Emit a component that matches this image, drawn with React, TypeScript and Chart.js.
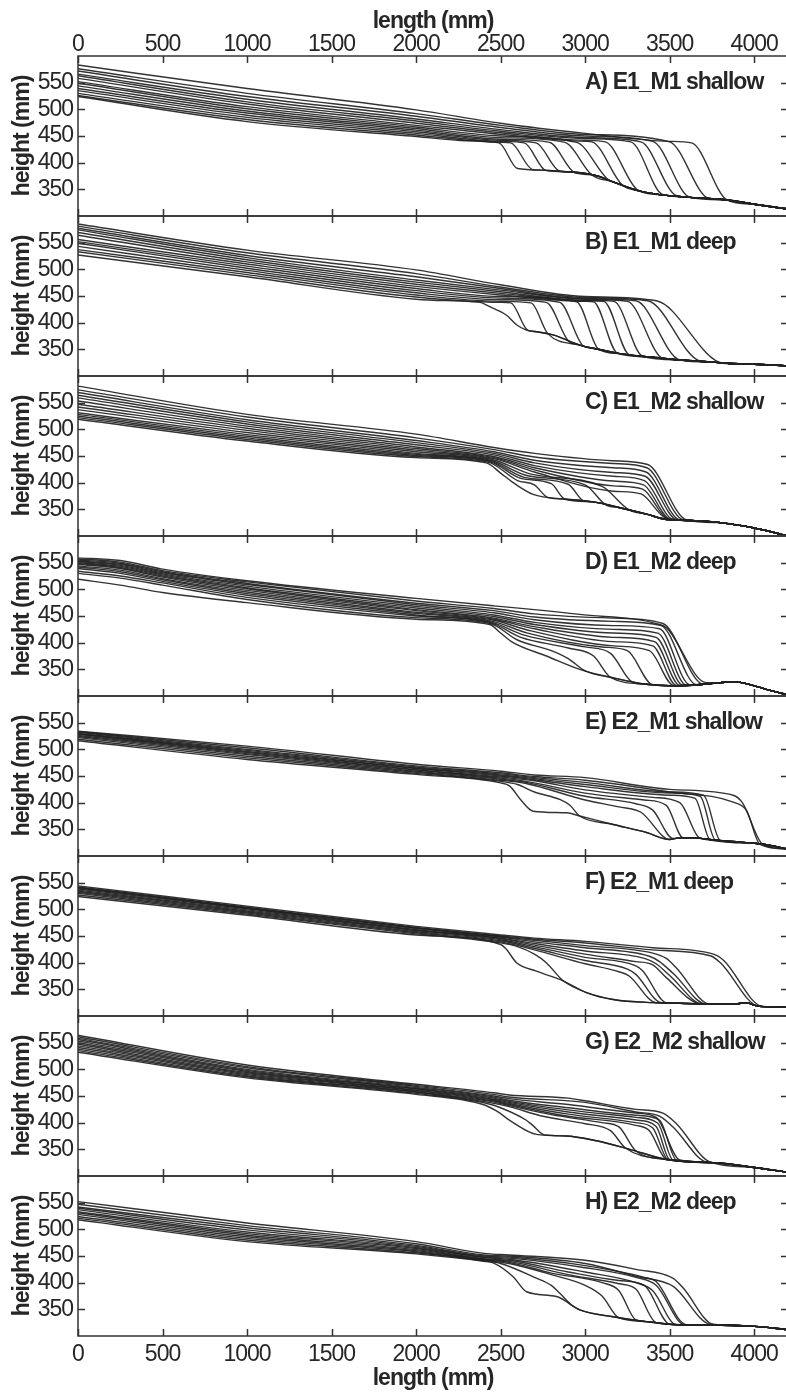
import React, { useEffect, useRef } from 'react';
import { Chart, registerables } from 'chart.js';

Chart.register(...registerables);

type Pt = [number, number];

const FONT = "'Liberation Sans', Arial, sans-serif";
const INK = '#262626';
const TICK_SPACING = '-1px';
const BOLD_SPACING = '-1px';
const TEXT_SIZE = 23;

const X_TICKS = [0, 500, 1000, 1500, 2000, 2500, 3000, 3500, 4000];
const Y_TICKS = [350, 400, 450, 500, 550];
const X_MIN = 0;
const X_MAX = 4200;
const Y_MIN = 300;
const Y_MAX = 600;
const X_TITLE = 'length (mm)';
const Y_TITLE = 'height (mm)';

// ---------- Panel A: E1_M1 shallow ----------
const labelA = 'A) E1_M1 shallow';
const stationsA = [0, 1000, 2000];
const upstreamA = [
  [524, 477, 449], [526, 481, 452], [530, 485, 455], [535, 489, 458], [539, 493, 461],
  [544, 497, 464], [549, 501, 467], [552, 505, 470], [558, 510, 474], [563, 514, 478],
  [566, 519, 482], [572, 524, 487], [576, 530, 492], [583, 539, 499],
];
const pathsA: Pt[][] = [
  [[2300, 441], [2490, 437]],
  [[2500, 438], [2560, 437]],
  [[2500, 440], [2640, 437]],
  [[2500, 442], [2710, 437]],
  [[2500, 444], [2790, 438]],
  [[2500, 447], [2880, 438]],
  [[2500, 450], [2950, 438]],
  [[2500, 453], [3000, 440], [3040, 439]],
  [[2500, 456], [3000, 442], [3120, 439]],
  [[2500, 459], [3000, 445], [3270, 439]],
  [[2500, 462], [3000, 447], [3330, 439]],
  [[2500, 466], [3000, 450], [3400, 440]],
  [[2500, 470], [3000, 453], [3500, 439]],
  [[2500, 474], [3000, 455], [3500, 440], [3630, 437]],
];
const landsA: Pt[] = [
  [2600, 389], [2690, 387], [2770, 385], [2850, 384], [2940, 381], [3040, 377], [3130, 370],
  [3220, 358], [3310, 349], [3460, 340], [3540, 338], [3620, 335], [3730, 333], [3840, 330],
];
const bedA: Pt[] = [
  [2750, 386], [2890, 383], [3050, 377], [3165, 364], [3320, 347], [3440, 340],
  [3620, 335], [3840, 330], [4000, 322], [4200, 313],
];

// ---------- Panel B: E1_M1 deep ----------
const labelB = 'B) E1_M1 deep';
const stationsB = [0, 1000, 2000];
const upstreamB = [
  [527, 486, 444], [533, 490, 448], [537, 494, 452], [543, 498, 456], [549, 502, 460],
  [552, 506, 464], [556, 510, 468], [564, 514, 472], [569, 518, 476], [574, 522, 480],
  [577, 526, 486], [581, 531, 492], [585, 536, 499],
];
const pathsB: Pt[][] = [
  [[2300, 440], [2380, 438], [2436, 430], [2535, 414]],
  [[2500, 438], [2560, 437]],
  [[2500, 440], [2680, 437]],
  [[2500, 443], [2770, 438]],
  [[2500, 446], [2850, 438]],
  [[2500, 449], [2950, 439]],
  [[2500, 452], [3000, 440], [3050, 439]],
  [[2500, 455], [3000, 441], [3110, 440]],
  [[2500, 458], [3000, 442], [3170, 440]],
  [[2500, 461], [3000, 444], [3250, 440]],
  [[2500, 464], [3000, 445], [3300, 441]],
  [[2500, 467], [3000, 447], [3370, 441]],
  [[2500, 471], [3000, 449], [3422, 441]],
];
const landsB: Pt[] = [
  [2594, 396], [2660, 386], [2780, 379], [2900, 366], [2990, 356], [3080, 350], [3190, 343],
  [3260, 340], [3340, 337], [3460, 333], [3560, 330], [3680, 328], [3816, 324],
];
const bedB: Pt[] = [
  [2653, 386], [2712, 383], [2810, 377], [2968, 358], [3047, 352], [3205, 342], [3363, 336],
  [3560, 330], [3757, 326], [3840, 324], [4000, 322], [4200, 319],
];

// ---------- Panel C: E1_M2 shallow ----------
const labelC = 'C) E1_M2 shallow';
const stationsC = [0, 1000, 2000];
const upstreamC = [
  [519, 478, 447], [522, 481, 449], [525, 484, 451], [528, 487, 453], [531, 490, 455],
  [537, 494, 458], [542, 498, 461], [547, 502, 464], [553, 506, 467], [559, 510, 471],
  [564, 514, 475], [569, 518, 479], [574, 523, 484], [581, 528, 491],
];
const pathsC: Pt[][] = [
  [[2416, 437]],
  [[2430, 438], [2600, 404], [2700, 396]],
  [[2440, 439], [2620, 408], [2800, 398]],
  [[2445, 440], [2640, 410], [2900, 397]],
  [[2450, 441], [2660, 413], [3000, 396]],
  [[2455, 443], [2680, 416], [3100, 393]],
  [[2460, 445], [2700, 420], [3166, 384], [3330, 379]],
  [[2460, 447], [2700, 424], [3166, 394], [3340, 388]],
  [[2460, 449], [2700, 428], [3166, 403], [3345, 396]],
  [[2460, 452], [2700, 432], [3166, 412], [3350, 404]],
  [[2460, 455], [2700, 437], [3166, 419], [3355, 412]],
  [[2460, 458], [2700, 442], [3166, 428], [3360, 420]],
  [[2460, 462], [2700, 448], [3166, 436], [3365, 428]],
  [[2460, 466], [2700, 455], [3166, 441], [3370, 434]],
];
const landsC: Pt[] = [
  [2500, 418], [2780, 372], [2880, 369], [2990, 366], [3120, 359], [3260, 349], [3480, 333],
  [3490, 332], [3500, 332], [3520, 331], [3540, 331], [3560, 330], [3580, 330], [3600, 330],
];
const bedC: Pt[] = [
  [2574, 400], [2692, 378], [2890, 369], [3047, 364], [3205, 353], [3363, 341], [3480, 331],
  [3620, 329], [3800, 325], [4000, 315], [4100, 308], [4200, 300],
];

// ---------- Panel D: E1_M2 deep ----------
const labelD = 'D) E1_M2 deep';
const stationsD = [0, 250, 500, 1000, 2000];
const upstreamD = [
  [519, 508, 494, 475, 444], [530, 521, 508, 481, 447], [534, 525, 512, 485, 450],
  [539, 530, 515, 489, 452], [542, 533, 518, 492, 455], [544, 536, 520, 495, 457],
  [547, 539, 523, 498, 460], [549, 541, 525, 501, 462], [550, 543, 527, 503, 465],
  [552, 545, 529, 506, 468], [553, 547, 531, 509, 471], [555, 549, 533, 511, 474],
  [557, 551, 535, 514, 478], [559, 554, 538, 516, 483],
];
const pathsD: Pt[][] = [
  [[2436, 434]],
  [[2440, 436], [2600, 405], [2800, 385], [2900, 370]],
  [[2445, 437], [2620, 410], [2900, 390], [3050, 375]],
  [[2450, 438], [2640, 414], [3000, 392], [3150, 380]],
  [[2455, 440], [2660, 418], [3100, 392], [3250, 385]],
  [[2460, 442], [2680, 422], [3166, 394], [3380, 385]],
  [[2460, 444], [2700, 426], [3166, 402], [3400, 394]],
  [[2460, 446], [2700, 430], [3166, 410], [3410, 402]],
  [[2460, 449], [2700, 434], [3166, 418], [3420, 410]],
  [[2460, 452], [2700, 438], [3166, 425], [3430, 418]],
  [[2460, 456], [2700, 443], [3166, 432], [3440, 426]],
  [[2460, 460], [2700, 448], [3166, 440], [3450, 432]],
  [[2460, 464], [2700, 454], [3166, 446], [3460, 436]],
  [[2460, 469], [2700, 462], [2968, 453], [3442, 434], [3481, 428]],
];
const landsD: Pt[] = [
  [2500, 418], [3000, 347], [3150, 335], [3280, 326], [3400, 321], [3520, 320], [3540, 320],
  [3560, 320], [3580, 320], [3600, 320], [3620, 321], [3660, 321], [3700, 322], [3718, 325],
];
const bedD: Pt[] = [
  [2574, 400], [2771, 375], [2968, 350], [3166, 334], [3363, 322], [3560, 319], [3700, 322],
  [3800, 325], [3880, 327], [4000, 319], [4100, 310], [4200, 302],
];

// ---------- Panel E: E2_M1 shallow ----------
const labelE = 'E) E2_M1 shallow';
const stationsE = [0, 1000, 2000];
const upstreamE = [
  [516, 481, 453], [519, 484, 455], [522, 487, 457], [524, 490, 459], [526, 492, 461],
  [528, 494, 462], [529, 496, 464], [530, 498, 465], [532, 500, 467], [533, 503, 469],
  [534, 506, 472],
];
const pathsE: Pt[][] = [
  [[2500, 437], [2554, 431], [2620, 405]],
  [[2500, 440], [2600, 434], [2700, 420], [2850, 406], [2910, 395]],
  [[2500, 442], [2650, 436], [3000, 405], [3200, 392], [3330, 382]],
  [[2500, 444], [2650, 438], [3000, 412], [3300, 398], [3400, 386]],
  [[2500, 446], [2650, 440], [3000, 418], [3350, 405], [3480, 395]],
  [[2500, 448], [2700, 441], [3000, 424], [3400, 410], [3560, 400]],
  [[2500, 450], [2700, 443], [3000, 430], [3500, 414], [3650, 408]],
  [[2500, 452], [2700, 445], [3000, 434], [3500, 418], [3680, 412]],
  [[2500, 454], [2700, 447], [3000, 438], [3500, 420], [3700, 414]],
  [[2500, 456], [2700, 449], [3000, 442], [3500, 420], [3876, 401], [3955, 385]],
  [[2500, 459], [2700, 452], [3000, 447], [3500, 425], [3876, 414], [3930, 400]],
];
const landsE: Pt[] = [
  [2692, 384], [2968, 375], [3501, 331], [3520, 333], [3580, 334], [3680, 333],
  [3740, 330], [3770, 330], [3800, 329], [4034, 322], [4053, 321],
];
const bedE: Pt[] = [
  [2890, 381], [2968, 375], [3166, 359], [3363, 344], [3501, 331], [3560, 334], [3650, 334],
  [3757, 330], [3955, 325], [4053, 322], [4200, 313],
];

// ---------- Panel F: E2_M1 deep ----------
const labelF = 'F) E2_M1 deep';
const stationsF = [0, 1000, 2000];
const upstreamF = [
  [524, 489, 452], [527, 491, 454], [530, 493, 456], [532, 495, 458], [534, 497, 460],
  [536, 499, 461], [538, 501, 462], [540, 502, 464], [541, 503, 465], [542, 504, 466],
  [544, 506, 468],
];
const pathsF: Pt[][] = [
  [[2500, 434], [2534, 425]],
  [[2500, 437], [2600, 430], [2700, 416], [2770, 400]],
  [[2500, 439], [2700, 424], [3000, 398], [3200, 383], [3260, 375]],
  [[2500, 441], [2700, 427], [3000, 404], [3250, 388], [3300, 378]],
  [[2500, 443], [2700, 430], [3000, 410], [3300, 394], [3340, 385]],
  [[2500, 445], [2700, 433], [3000, 416], [3300, 402], [3400, 396], [3480, 372]],
  [[2500, 446], [2700, 436], [3000, 422], [3350, 408], [3420, 398], [3500, 376]],
  [[2500, 448], [2700, 439], [3000, 428], [3380, 412], [3440, 402], [3520, 380]],
  [[2500, 449], [2700, 442], [3000, 432], [3400, 418], [3480, 408], [3540, 390]],
  [[2500, 450], [2700, 444], [3000, 437], [3400, 424], [3740, 413], [3800, 400]],
  [[2500, 452], [2700, 446], [3000, 440], [3400, 428], [3760, 416], [3820, 404]],
];
const landsF: Pt[] = [
  [2594, 400], [2870, 366], [3420, 325], [3450, 325], [3480, 325], [3680, 323],
  [3700, 322], [3720, 322], [3740, 322], [4030, 318], [4050, 318],
];
const bedF: Pt[] = [
  [2712, 384], [2870, 366], [3008, 344], [3166, 331], [3402, 325], [3560, 324], [3757, 322],
  [3876, 322], [3950, 325], [4030, 318], [4200, 317],
];

// ---------- Panel G: E2_M2 shallow ----------
const labelG = 'G) E2_M2 shallow';
const stationsG = [0, 1000, 2000];
const upstreamG = [
  [532, 484, 453], [535, 486, 455], [538, 488, 457], [541, 490, 458], [544, 492, 460],
  [547, 494, 461], [550, 496, 463], [553, 498, 464], [556, 500, 466], [558, 503, 468],
  [561, 505, 470], [564, 508, 472],
];
const pathsG: Pt[][] = [
  [[2396, 434], [2475, 422]],
  [[2420, 436], [2500, 428], [2650, 405], [2690, 395]],
  [[2430, 438], [2550, 430], [2750, 412], [3000, 398], [3150, 385]],
  [[2440, 440], [2550, 432], [2800, 415], [3100, 400], [3200, 392]],
  [[2450, 441], [2550, 434], [2900, 412], [3300, 395], [3380, 385]],
  [[2450, 443], [2550, 436], [2900, 416], [3300, 400], [3400, 390]],
  [[2460, 444], [2550, 438], [2900, 420], [3300, 405], [3420, 393]],
  [[2460, 446], [2550, 440], [2900, 424], [3300, 410], [3430, 399]],
  [[2460, 448], [2550, 442], [2900, 428], [3300, 414], [3440, 405]],
  [[2460, 450], [2550, 445], [2900, 434], [3300, 418], [3420, 410]],
  [[2460, 453], [2550, 448], [3000, 438], [3300, 420], [3442, 412], [3520, 392]],
  [[2460, 456], [2550, 452], [2900, 446], [3000, 441], [3300, 425], [3460, 418], [3540, 398]],
];
const landsG: Pt[] = [
  [2574, 400], [2760, 377], [3240, 352], [3300, 347], [3480, 332], [3490, 331],
  [3500, 331], [3520, 330], [3540, 330], [3560, 330], [3718, 326], [3740, 326],
];
const bedG: Pt[] = [
  [2712, 378], [2890, 375], [3067, 366], [3264, 350], [3481, 331], [3757, 325],
  [4000, 316], [4200, 307],
];

// ---------- Panel H: E2_M2 deep ----------
const labelH = 'H) E2_M2 deep';
const stationsH = [0, 1000, 2000];
const upstreamH = [
  [518, 477, 454], [521, 480, 456], [524, 483, 458], [528, 486, 460], [531, 489, 462],
  [533, 492, 464], [537, 495, 466], [540, 499, 468], [542, 503, 470], [547, 507, 473],
  [552, 512, 477],
];
const pathsH: Pt[][] = [
  [[2400, 440], [2456, 437], [2574, 411]],
  [[2400, 441], [2500, 436], [2700, 410], [2800, 395], [2850, 380]],
  [[2400, 442], [2550, 436], [2800, 415], [3000, 395], [3100, 375]],
  [[2400, 443], [2550, 438], [2800, 418], [3100, 400], [3200, 385]],
  [[2400, 444], [2550, 440], [2900, 415], [3200, 398], [3300, 388]],
  [[2400, 445], [2550, 442], [2900, 420], [3200, 404], [3350, 395]],
  [[2400, 447], [2550, 444], [3000, 420], [3300, 400], [3400, 385]],
  [[2400, 448], [2550, 446], [3000, 428], [3300, 410], [3420, 395]],
  [[2400, 450], [2550, 448], [3000, 432], [3350, 410], [3420, 402]],
  [[2400, 452], [2550, 450], [3000, 436], [3300, 412], [3521, 393]],
  [[2400, 455], [2550, 452], [3000, 442], [3300, 425], [3521, 408], [3580, 390]],
];
const landsH: Pt[] = [
  [2653, 383], [2920, 358], [3200, 334], [3300, 330], [3420, 325], [3500, 322],
  [3540, 321], [3590, 321], [3600, 321], [3740, 322], [3757, 322],
];
const bedH: Pt[] = [
  [2830, 374], [2968, 349], [3166, 336], [3363, 327], [3560, 321], [3757, 321],
  [4000, 318], [4200, 312],
];

interface PanelDef {
  label: string;
  stations: number[];
  upstream: number[][];
  paths: Pt[][];
  lands: Pt[];
  bed: Pt[];
}

const PANELS: PanelDef[] = [
  { label: labelA, stations: stationsA, upstream: upstreamA, paths: pathsA, lands: landsA, bed: bedA },
  { label: labelB, stations: stationsB, upstream: upstreamB, paths: pathsB, lands: landsB, bed: bedB },
  { label: labelC, stations: stationsC, upstream: upstreamC, paths: pathsC, lands: landsC, bed: bedC },
  { label: labelD, stations: stationsD, upstream: upstreamD, paths: pathsD, lands: landsD, bed: bedD },
  { label: labelE, stations: stationsE, upstream: upstreamE, paths: pathsE, lands: landsE, bed: bedE },
  { label: labelF, stations: stationsF, upstream: upstreamF, paths: pathsF, lands: landsF, bed: bedF },
  { label: labelG, stations: stationsG, upstream: upstreamG, paths: pathsG, lands: landsG, bed: bedG },
  { label: labelH, stations: stationsH, upstream: upstreamH, paths: pathsH, lands: landsH, bed: bedH },
];

function buildLine(p: PanelDef, k: number) {
  const pts: { x: number; y: number }[] = p.stations.map((x, j) => ({ x, y: p.upstream[k][j] }));
  p.paths[k].forEach(([x, y]) => pts.push({ x, y }));
  const [lx, ly] = p.lands[k];
  pts.push({ x: lx, y: ly });
  p.bed.filter(([x]) => x > lx + 30).forEach(([x, y]) => pts.push({ x, y }));
  return pts;
}

const CANVAS_W = 792;
const PLOT_TOP = 56;
const PANEL_H = 160;
const PAGE_H = 1394;

function geometry(i: number) {
  const T = PLOT_TOP + PANEL_H * i;
  if (i === 0) return { top: 0, height: PLOT_TOP + PANEL_H + 4 };
  const top = T - 4;
  if (i === PANELS.length - 1) return { top, height: PAGE_H - top };
  return { top, height: PANEL_H + 8 };
}

const spacingPlugin = {
  id: 'spacing',
  beforeLayout(chart: any) {
    chart.ctx.letterSpacing = TICK_SPACING;
  },
  beforeDraw(chart: any) {
    chart.ctx.letterSpacing = TICK_SPACING;
  },
};

function framePlugin(label: string) {
  return {
    id: 'frame',
    afterDraw(chart: any) {
      const { ctx, chartArea } = chart;
      const { left, right, top, bottom } = chartArea;
      const xs = chart.scales.x;
      const ys = chart.scales.y;
      ctx.save();
      ctx.strokeStyle = '#333';
      ctx.lineWidth = 1.5;
      ctx.strokeRect(left, top, right - left, bottom - top);
      ctx.beginPath();
      X_TICKS.forEach((v) => {
        const px = Math.round(xs.getPixelForValue(v)) + 0.5;
        ctx.moveTo(px, top);
        ctx.lineTo(px, top + 7);
        ctx.moveTo(px, bottom);
        ctx.lineTo(px, bottom - 7);
      });
      Y_TICKS.forEach((v) => {
        const py = Math.round(ys.getPixelForValue(v)) + 0.5;
        ctx.moveTo(left, py);
        ctx.lineTo(left + 7, py);
        ctx.moveTo(right, py);
        ctx.lineTo(right - 7, py);
      });
      ctx.stroke();
      ctx.fillStyle = INK;
      ctx.font = `bold ${TEXT_SIZE}px ${FONT}`;
      ctx.letterSpacing = BOLD_SPACING;
      ctx.textAlign = 'left';
      ctx.textBaseline = 'alphabetic';
      ctx.fillText(label, 585, top + 33);
      ctx.restore();
    },
  };
}

function Panel({ index }: { index: number }) {
  const ref = useRef<HTMLCanvasElement>(null);
  const g = geometry(index);
  useEffect(() => {
    const p = PANELS[index];
    const isTop = index === 0;
    const isBottom = index === PANELS.length - 1;
    const showX = isTop || isBottom;
    const chart = new Chart(ref.current as HTMLCanvasElement, {
      type: 'line',
      data: {
        datasets: p.upstream.map((_, k) => ({
          data: buildLine(p, k),
          borderColor: 'rgba(34,34,34,0.92)',
          borderWidth: 1.4,
          pointRadius: 0,
          cubicInterpolationMode: 'monotone' as const,
          fill: false,
        })),
      },
      options: {
        responsive: false,
        animation: false,
        events: [],
        layout: { padding: { top: isTop ? 0 : 4, bottom: isBottom ? 0 : 4, left: 0, right: 4 } },
        plugins: { legend: { display: false }, tooltip: { enabled: false } },
        scales: {
          x: {
            type: 'linear',
            min: X_MIN,
            max: X_MAX,
            position: isTop ? 'top' : 'bottom',
            display: showX,
            grid: { display: false, drawTicks: false },
            border: { display: false },
            afterBuildTicks: (s: any) => {
              s.ticks = X_TICKS.map((v) => ({ value: v }));
            },
            afterFit: (s: any) => {
              if (showX) s.height = isTop ? PLOT_TOP : 58;
              s.paddingLeft = 0;
              s.paddingRight = 0;
            },
            ticks: {
              autoSkip: false,
              maxRotation: 0,
              padding: isTop ? 0 : 7,
              color: INK,
              font: { family: FONT, size: TEXT_SIZE, lineHeight: 1 },
              callback: (v: any) => String(v),
            },
            title: {
              display: true,
              text: X_TITLE,
              color: INK,
              font: { family: FONT, size: TEXT_SIZE, weight: 'bold', lineHeight: 1 },
              padding: isTop ? { top: 10, bottom: 0 } : { top: 0, bottom: 4 },
            },
          },
          y: {
            type: 'linear',
            min: Y_MIN,
            max: Y_MAX,
            grid: { display: false, drawTicks: false },
            border: { display: false },
            afterBuildTicks: (s: any) => {
              s.ticks = Y_TICKS.map((v) => ({ value: v }));
            },
            afterFit: (s: any) => {
              s.width = 78;
              s.paddingTop = 0;
              s.paddingBottom = 0;
            },
            ticks: {
              autoSkip: false,
              padding: 5,
              color: INK,
              font: { family: FONT, size: TEXT_SIZE, lineHeight: 1 },
              callback: (v: any) => String(v),
            },
            title: {
              display: true,
              text: Y_TITLE,
              color: INK,
              font: { family: FONT, size: TEXT_SIZE, weight: 'bold', lineHeight: 1 },
              padding: { top: 11, bottom: 0 },
            },
          },
        },
      } as any,
      plugins: [spacingPlugin, framePlugin(p.label)],
    });
    return () => chart.destroy();
  }, [index]);
  return (
    <canvas
      ref={ref}
      width={CANVAS_W}
      height={g.height}
      style={{ position: 'absolute', left: 0, top: g.top, width: CANVAS_W, height: g.height }}
    />
  );
}

export default function App() {
  return (
    <div style={{ position: 'relative', width: 786, height: PAGE_H, overflow: 'hidden', background: '#fff' }}>
      <style>{'body{margin:0;overflow:hidden;}'}</style>
      {PANELS.map((_, i) => (
        <Panel key={i} index={i} />
      ))}
    </div>
  );
}
